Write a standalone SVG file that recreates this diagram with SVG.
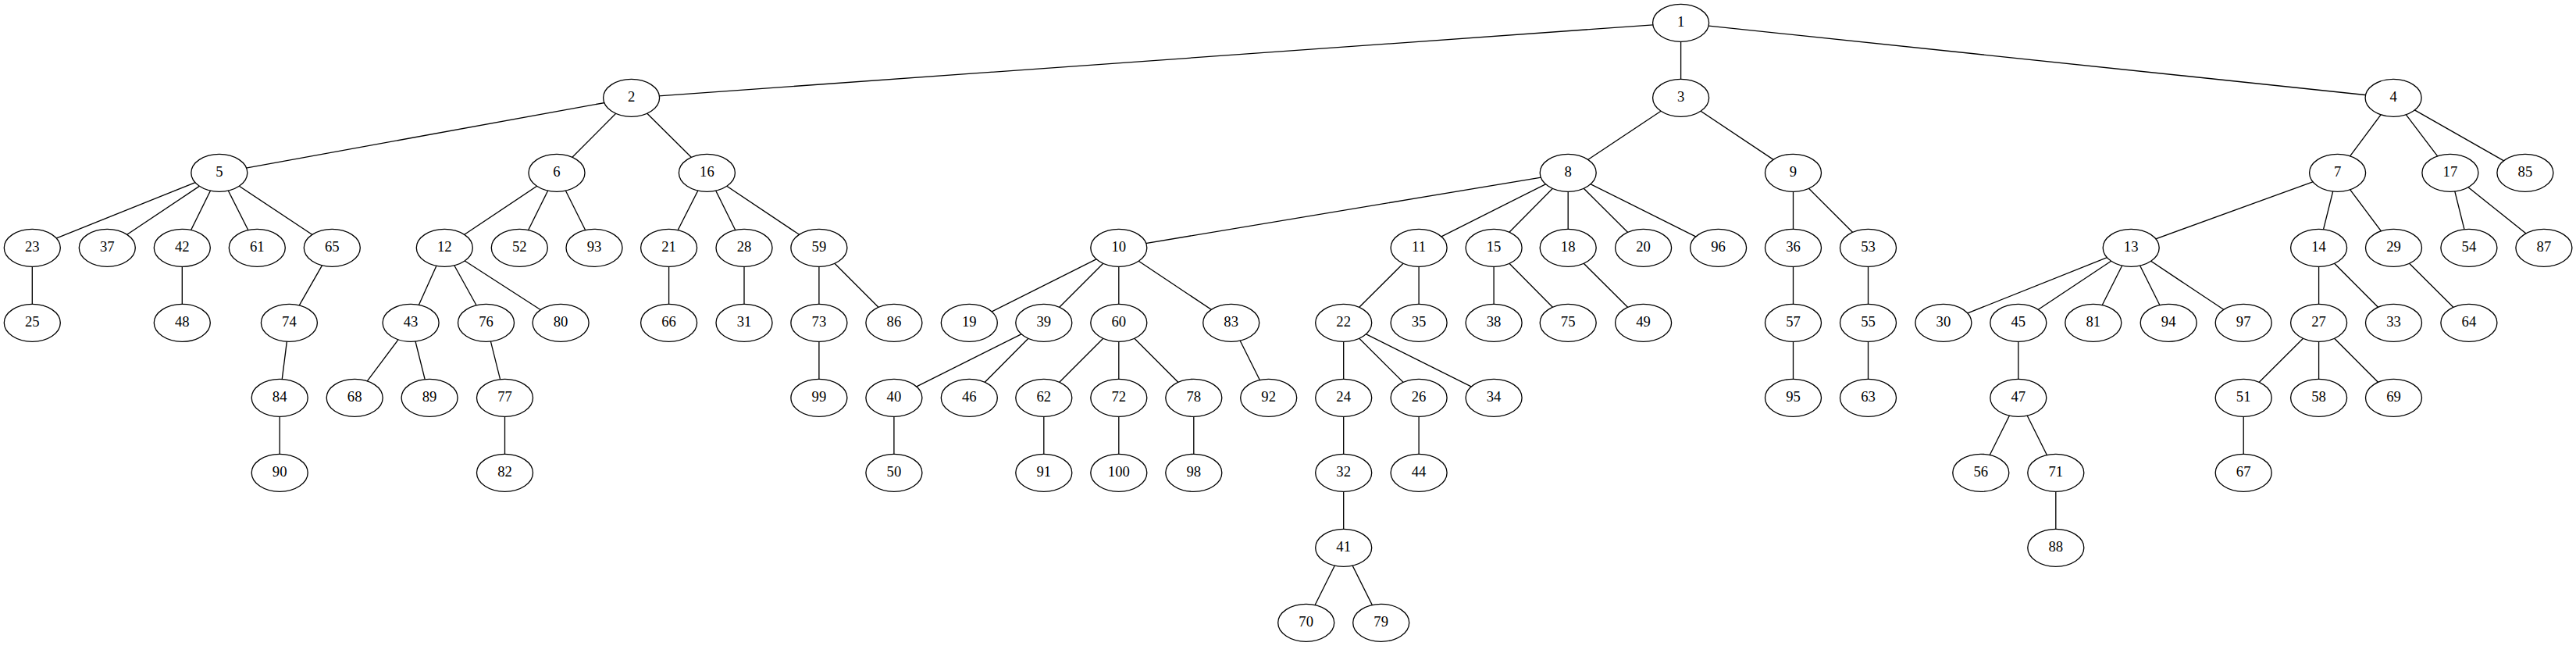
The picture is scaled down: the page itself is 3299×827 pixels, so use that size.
<svg xmlns="http://www.w3.org/2000/svg" width="3299" height="827" viewBox="0 0 3299 827">
<style>
.node ellipse{fill:#fff;stroke:#000;stroke-width:1.33}
.node text{font-family:"Liberation Serif","Times New Roman",serif;font-size:18.67px;text-anchor:middle;fill:#000}
#edges line{stroke:#000;stroke-width:1.33}
</style>
<rect width="3299" height="827" fill="#fff"/>
<g id="edges">
<line x1="2152.6" y1="29.3" x2="808.6" y2="125.3"/>
<line x1="2152.6" y1="29.3" x2="2152.6" y2="125.3"/>
<line x1="2152.6" y1="29.3" x2="3065.1" y2="125.3"/>
<line x1="808.6" y1="125.3" x2="280.8" y2="221.3"/>
<line x1="808.6" y1="125.3" x2="713.0" y2="221.3"/>
<line x1="808.6" y1="125.3" x2="905.4" y2="221.3"/>
<line x1="2152.6" y1="125.3" x2="2008.2" y2="221.3"/>
<line x1="2152.6" y1="125.3" x2="2296.5" y2="221.3"/>
<line x1="3065.1" y1="125.3" x2="2993.6" y2="221.3"/>
<line x1="3065.1" y1="125.3" x2="3137.9" y2="221.3"/>
<line x1="3065.1" y1="125.3" x2="3233.9" y2="221.3"/>
<line x1="280.8" y1="221.3" x2="41.3" y2="317.3"/>
<line x1="280.8" y1="221.3" x2="137.3" y2="317.3"/>
<line x1="280.8" y1="221.3" x2="233.3" y2="317.3"/>
<line x1="280.8" y1="221.3" x2="329.3" y2="317.3"/>
<line x1="280.8" y1="221.3" x2="425.3" y2="317.3"/>
<line x1="713.0" y1="221.3" x2="569.3" y2="317.3"/>
<line x1="713.0" y1="221.3" x2="665.3" y2="317.3"/>
<line x1="713.0" y1="221.3" x2="761.0" y2="317.3"/>
<line x1="905.4" y1="221.3" x2="856.6" y2="317.3"/>
<line x1="905.4" y1="221.3" x2="953.0" y2="317.3"/>
<line x1="905.4" y1="221.3" x2="1048.9" y2="317.3"/>
<line x1="2008.2" y1="221.3" x2="1432.8" y2="317.3"/>
<line x1="2008.2" y1="221.3" x2="1817.1" y2="317.3"/>
<line x1="2008.2" y1="221.3" x2="1913.1" y2="317.3"/>
<line x1="2008.2" y1="221.3" x2="2008.2" y2="317.3"/>
<line x1="2008.2" y1="221.3" x2="2104.6" y2="317.3"/>
<line x1="2008.2" y1="221.3" x2="2200.6" y2="317.3"/>
<line x1="2296.5" y1="221.3" x2="2296.5" y2="317.3"/>
<line x1="2296.5" y1="221.3" x2="2392.5" y2="317.3"/>
<line x1="2993.6" y1="221.3" x2="2729.2" y2="317.3"/>
<line x1="2993.6" y1="221.3" x2="2969.6" y2="317.3"/>
<line x1="2993.6" y1="221.3" x2="3065.5" y2="317.3"/>
<line x1="3137.9" y1="221.3" x2="3161.9" y2="317.3"/>
<line x1="3137.9" y1="221.3" x2="3257.9" y2="317.3"/>
<line x1="41.3" y1="317.3" x2="41.3" y2="413.3"/>
<line x1="233.3" y1="317.3" x2="233.3" y2="413.3"/>
<line x1="425.3" y1="317.3" x2="370.4" y2="413.3"/>
<line x1="569.3" y1="317.3" x2="526.1" y2="413.3"/>
<line x1="569.3" y1="317.3" x2="622.5" y2="413.3"/>
<line x1="569.3" y1="317.3" x2="718.1" y2="413.3"/>
<line x1="856.6" y1="317.3" x2="856.6" y2="413.3"/>
<line x1="953.0" y1="317.3" x2="953.0" y2="413.3"/>
<line x1="1048.9" y1="317.3" x2="1048.9" y2="413.3"/>
<line x1="1048.9" y1="317.3" x2="1144.9" y2="413.3"/>
<line x1="1432.8" y1="317.3" x2="1241.3" y2="413.3"/>
<line x1="1432.8" y1="317.3" x2="1336.8" y2="413.3"/>
<line x1="1432.8" y1="317.3" x2="1432.8" y2="413.3"/>
<line x1="1432.8" y1="317.3" x2="1576.7" y2="413.3"/>
<line x1="1817.1" y1="317.3" x2="1720.7" y2="413.3"/>
<line x1="1817.1" y1="317.3" x2="1817.1" y2="413.3"/>
<line x1="1913.1" y1="317.3" x2="1913.1" y2="413.3"/>
<line x1="1913.1" y1="317.3" x2="2008.2" y2="413.3"/>
<line x1="2008.2" y1="317.3" x2="2104.6" y2="413.3"/>
<line x1="2296.5" y1="317.3" x2="2296.5" y2="413.3"/>
<line x1="2392.5" y1="317.3" x2="2392.5" y2="413.3"/>
<line x1="2729.2" y1="317.3" x2="2488.9" y2="413.3"/>
<line x1="2729.2" y1="317.3" x2="2584.8" y2="413.3"/>
<line x1="2729.2" y1="317.3" x2="2680.8" y2="413.3"/>
<line x1="2729.2" y1="317.3" x2="2777.2" y2="413.3"/>
<line x1="2729.2" y1="317.3" x2="2873.2" y2="413.3"/>
<line x1="2969.6" y1="317.3" x2="2969.6" y2="413.3"/>
<line x1="2969.6" y1="317.3" x2="3065.5" y2="413.3"/>
<line x1="3065.5" y1="317.3" x2="3161.9" y2="413.3"/>
<line x1="370.4" y1="413.3" x2="358.2" y2="509.3"/>
<line x1="526.1" y1="413.3" x2="454.2" y2="509.3"/>
<line x1="526.1" y1="413.3" x2="550.1" y2="509.3"/>
<line x1="622.5" y1="413.3" x2="646.5" y2="509.3"/>
<line x1="1048.9" y1="413.3" x2="1048.9" y2="509.3"/>
<line x1="1336.8" y1="413.3" x2="1144.9" y2="509.3"/>
<line x1="1336.8" y1="413.3" x2="1241.3" y2="509.3"/>
<line x1="1432.8" y1="413.3" x2="1336.8" y2="509.3"/>
<line x1="1432.8" y1="413.3" x2="1432.8" y2="509.3"/>
<line x1="1432.8" y1="413.3" x2="1528.8" y2="509.3"/>
<line x1="1576.7" y1="413.3" x2="1624.7" y2="509.3"/>
<line x1="1720.7" y1="413.3" x2="1720.7" y2="509.3"/>
<line x1="1720.7" y1="413.3" x2="1817.1" y2="509.3"/>
<line x1="1720.7" y1="413.3" x2="1913.1" y2="509.3"/>
<line x1="2296.5" y1="413.3" x2="2296.5" y2="509.3"/>
<line x1="2392.5" y1="413.3" x2="2392.5" y2="509.3"/>
<line x1="2584.8" y1="413.3" x2="2584.8" y2="509.3"/>
<line x1="2969.6" y1="413.3" x2="2873.2" y2="509.3"/>
<line x1="2969.6" y1="413.3" x2="2969.6" y2="509.3"/>
<line x1="2969.6" y1="413.3" x2="3065.5" y2="509.3"/>
<line x1="358.2" y1="509.3" x2="358.2" y2="605.3"/>
<line x1="646.5" y1="509.3" x2="646.5" y2="605.3"/>
<line x1="1144.9" y1="509.3" x2="1144.9" y2="605.3"/>
<line x1="1336.8" y1="509.3" x2="1336.8" y2="605.3"/>
<line x1="1432.8" y1="509.3" x2="1432.8" y2="605.3"/>
<line x1="1528.8" y1="509.3" x2="1528.8" y2="605.3"/>
<line x1="1720.7" y1="509.3" x2="1720.7" y2="605.3"/>
<line x1="1817.1" y1="509.3" x2="1817.1" y2="605.3"/>
<line x1="2584.8" y1="509.3" x2="2536.8" y2="605.3"/>
<line x1="2584.8" y1="509.3" x2="2632.8" y2="605.3"/>
<line x1="2873.2" y1="509.3" x2="2873.2" y2="605.3"/>
<line x1="1720.7" y1="605.3" x2="1720.7" y2="701.3"/>
<line x1="2632.8" y1="605.3" x2="2632.8" y2="701.3"/>
<line x1="1720.7" y1="701.3" x2="1672.7" y2="797.3"/>
<line x1="1720.7" y1="701.3" x2="1768.7" y2="797.3"/>
</g>
<g id="node1" class="node"><ellipse cx="2152.6" cy="29.3" rx="36" ry="24"/><text x="2152.6" y="34.3">1</text></g>
<g id="node2" class="node"><ellipse cx="808.6" cy="125.3" rx="36" ry="24"/><text x="808.6" y="130.3">2</text></g>
<g id="node3" class="node"><ellipse cx="2152.6" cy="125.3" rx="36" ry="24"/><text x="2152.6" y="130.3">3</text></g>
<g id="node4" class="node"><ellipse cx="3065.1" cy="125.3" rx="36" ry="24"/><text x="3065.1" y="130.3">4</text></g>
<g id="node5" class="node"><ellipse cx="280.8" cy="221.3" rx="36" ry="24"/><text x="280.8" y="226.3">5</text></g>
<g id="node6" class="node"><ellipse cx="713.0" cy="221.3" rx="36" ry="24"/><text x="713.0" y="226.3">6</text></g>
<g id="node16" class="node"><ellipse cx="905.4" cy="221.3" rx="36" ry="24"/><text x="905.4" y="226.3">16</text></g>
<g id="node8" class="node"><ellipse cx="2008.2" cy="221.3" rx="36" ry="24"/><text x="2008.2" y="226.3">8</text></g>
<g id="node9" class="node"><ellipse cx="2296.5" cy="221.3" rx="36" ry="24"/><text x="2296.5" y="226.3">9</text></g>
<g id="node7" class="node"><ellipse cx="2993.6" cy="221.3" rx="36" ry="24"/><text x="2993.6" y="226.3">7</text></g>
<g id="node17" class="node"><ellipse cx="3137.9" cy="221.3" rx="36" ry="24"/><text x="3137.9" y="226.3">17</text></g>
<g id="node85" class="node"><ellipse cx="3233.9" cy="221.3" rx="36" ry="24"/><text x="3233.9" y="226.3">85</text></g>
<g id="node23" class="node"><ellipse cx="41.3" cy="317.3" rx="36" ry="24"/><text x="41.3" y="322.3">23</text></g>
<g id="node37" class="node"><ellipse cx="137.3" cy="317.3" rx="36" ry="24"/><text x="137.3" y="322.3">37</text></g>
<g id="node42" class="node"><ellipse cx="233.3" cy="317.3" rx="36" ry="24"/><text x="233.3" y="322.3">42</text></g>
<g id="node61" class="node"><ellipse cx="329.3" cy="317.3" rx="36" ry="24"/><text x="329.3" y="322.3">61</text></g>
<g id="node65" class="node"><ellipse cx="425.3" cy="317.3" rx="36" ry="24"/><text x="425.3" y="322.3">65</text></g>
<g id="node12" class="node"><ellipse cx="569.3" cy="317.3" rx="36" ry="24"/><text x="569.3" y="322.3">12</text></g>
<g id="node52" class="node"><ellipse cx="665.3" cy="317.3" rx="36" ry="24"/><text x="665.3" y="322.3">52</text></g>
<g id="node93" class="node"><ellipse cx="761.0" cy="317.3" rx="36" ry="24"/><text x="761.0" y="322.3">93</text></g>
<g id="node21" class="node"><ellipse cx="856.6" cy="317.3" rx="36" ry="24"/><text x="856.6" y="322.3">21</text></g>
<g id="node28" class="node"><ellipse cx="953.0" cy="317.3" rx="36" ry="24"/><text x="953.0" y="322.3">28</text></g>
<g id="node59" class="node"><ellipse cx="1048.9" cy="317.3" rx="36" ry="24"/><text x="1048.9" y="322.3">59</text></g>
<g id="node10" class="node"><ellipse cx="1432.8" cy="317.3" rx="36" ry="24"/><text x="1432.8" y="322.3">10</text></g>
<g id="node11" class="node"><ellipse cx="1817.1" cy="317.3" rx="36" ry="24"/><text x="1817.1" y="322.3">11</text></g>
<g id="node15" class="node"><ellipse cx="1913.1" cy="317.3" rx="36" ry="24"/><text x="1913.1" y="322.3">15</text></g>
<g id="node18" class="node"><ellipse cx="2008.2" cy="317.3" rx="36" ry="24"/><text x="2008.2" y="322.3">18</text></g>
<g id="node20" class="node"><ellipse cx="2104.6" cy="317.3" rx="36" ry="24"/><text x="2104.6" y="322.3">20</text></g>
<g id="node96" class="node"><ellipse cx="2200.6" cy="317.3" rx="36" ry="24"/><text x="2200.6" y="322.3">96</text></g>
<g id="node36" class="node"><ellipse cx="2296.5" cy="317.3" rx="36" ry="24"/><text x="2296.5" y="322.3">36</text></g>
<g id="node53" class="node"><ellipse cx="2392.5" cy="317.3" rx="36" ry="24"/><text x="2392.5" y="322.3">53</text></g>
<g id="node13" class="node"><ellipse cx="2729.2" cy="317.3" rx="36" ry="24"/><text x="2729.2" y="322.3">13</text></g>
<g id="node14" class="node"><ellipse cx="2969.6" cy="317.3" rx="36" ry="24"/><text x="2969.6" y="322.3">14</text></g>
<g id="node29" class="node"><ellipse cx="3065.5" cy="317.3" rx="36" ry="24"/><text x="3065.5" y="322.3">29</text></g>
<g id="node54" class="node"><ellipse cx="3161.9" cy="317.3" rx="36" ry="24"/><text x="3161.9" y="322.3">54</text></g>
<g id="node87" class="node"><ellipse cx="3257.9" cy="317.3" rx="36" ry="24"/><text x="3257.9" y="322.3">87</text></g>
<g id="node25" class="node"><ellipse cx="41.3" cy="413.3" rx="36" ry="24"/><text x="41.3" y="418.3">25</text></g>
<g id="node48" class="node"><ellipse cx="233.3" cy="413.3" rx="36" ry="24"/><text x="233.3" y="418.3">48</text></g>
<g id="node74" class="node"><ellipse cx="370.4" cy="413.3" rx="36" ry="24"/><text x="370.4" y="418.3">74</text></g>
<g id="node43" class="node"><ellipse cx="526.1" cy="413.3" rx="36" ry="24"/><text x="526.1" y="418.3">43</text></g>
<g id="node76" class="node"><ellipse cx="622.5" cy="413.3" rx="36" ry="24"/><text x="622.5" y="418.3">76</text></g>
<g id="node80" class="node"><ellipse cx="718.1" cy="413.3" rx="36" ry="24"/><text x="718.1" y="418.3">80</text></g>
<g id="node66" class="node"><ellipse cx="856.6" cy="413.3" rx="36" ry="24"/><text x="856.6" y="418.3">66</text></g>
<g id="node31" class="node"><ellipse cx="953.0" cy="413.3" rx="36" ry="24"/><text x="953.0" y="418.3">31</text></g>
<g id="node73" class="node"><ellipse cx="1048.9" cy="413.3" rx="36" ry="24"/><text x="1048.9" y="418.3">73</text></g>
<g id="node86" class="node"><ellipse cx="1144.9" cy="413.3" rx="36" ry="24"/><text x="1144.9" y="418.3">86</text></g>
<g id="node19" class="node"><ellipse cx="1241.3" cy="413.3" rx="36" ry="24"/><text x="1241.3" y="418.3">19</text></g>
<g id="node39" class="node"><ellipse cx="1336.8" cy="413.3" rx="36" ry="24"/><text x="1336.8" y="418.3">39</text></g>
<g id="node60" class="node"><ellipse cx="1432.8" cy="413.3" rx="36" ry="24"/><text x="1432.8" y="418.3">60</text></g>
<g id="node83" class="node"><ellipse cx="1576.7" cy="413.3" rx="36" ry="24"/><text x="1576.7" y="418.3">83</text></g>
<g id="node22" class="node"><ellipse cx="1720.7" cy="413.3" rx="36" ry="24"/><text x="1720.7" y="418.3">22</text></g>
<g id="node35" class="node"><ellipse cx="1817.1" cy="413.3" rx="36" ry="24"/><text x="1817.1" y="418.3">35</text></g>
<g id="node38" class="node"><ellipse cx="1913.1" cy="413.3" rx="36" ry="24"/><text x="1913.1" y="418.3">38</text></g>
<g id="node75" class="node"><ellipse cx="2008.2" cy="413.3" rx="36" ry="24"/><text x="2008.2" y="418.3">75</text></g>
<g id="node49" class="node"><ellipse cx="2104.6" cy="413.3" rx="36" ry="24"/><text x="2104.6" y="418.3">49</text></g>
<g id="node57" class="node"><ellipse cx="2296.5" cy="413.3" rx="36" ry="24"/><text x="2296.5" y="418.3">57</text></g>
<g id="node55" class="node"><ellipse cx="2392.5" cy="413.3" rx="36" ry="24"/><text x="2392.5" y="418.3">55</text></g>
<g id="node30" class="node"><ellipse cx="2488.9" cy="413.3" rx="36" ry="24"/><text x="2488.9" y="418.3">30</text></g>
<g id="node45" class="node"><ellipse cx="2584.8" cy="413.3" rx="36" ry="24"/><text x="2584.8" y="418.3">45</text></g>
<g id="node81" class="node"><ellipse cx="2680.8" cy="413.3" rx="36" ry="24"/><text x="2680.8" y="418.3">81</text></g>
<g id="node94" class="node"><ellipse cx="2777.2" cy="413.3" rx="36" ry="24"/><text x="2777.2" y="418.3">94</text></g>
<g id="node97" class="node"><ellipse cx="2873.2" cy="413.3" rx="36" ry="24"/><text x="2873.2" y="418.3">97</text></g>
<g id="node27" class="node"><ellipse cx="2969.6" cy="413.3" rx="36" ry="24"/><text x="2969.6" y="418.3">27</text></g>
<g id="node33" class="node"><ellipse cx="3065.5" cy="413.3" rx="36" ry="24"/><text x="3065.5" y="418.3">33</text></g>
<g id="node64" class="node"><ellipse cx="3161.9" cy="413.3" rx="36" ry="24"/><text x="3161.9" y="418.3">64</text></g>
<g id="node84" class="node"><ellipse cx="358.2" cy="509.3" rx="36" ry="24"/><text x="358.2" y="514.3">84</text></g>
<g id="node68" class="node"><ellipse cx="454.2" cy="509.3" rx="36" ry="24"/><text x="454.2" y="514.3">68</text></g>
<g id="node89" class="node"><ellipse cx="550.1" cy="509.3" rx="36" ry="24"/><text x="550.1" y="514.3">89</text></g>
<g id="node77" class="node"><ellipse cx="646.5" cy="509.3" rx="36" ry="24"/><text x="646.5" y="514.3">77</text></g>
<g id="node99" class="node"><ellipse cx="1048.9" cy="509.3" rx="36" ry="24"/><text x="1048.9" y="514.3">99</text></g>
<g id="node40" class="node"><ellipse cx="1144.9" cy="509.3" rx="36" ry="24"/><text x="1144.9" y="514.3">40</text></g>
<g id="node46" class="node"><ellipse cx="1241.3" cy="509.3" rx="36" ry="24"/><text x="1241.3" y="514.3">46</text></g>
<g id="node62" class="node"><ellipse cx="1336.8" cy="509.3" rx="36" ry="24"/><text x="1336.8" y="514.3">62</text></g>
<g id="node72" class="node"><ellipse cx="1432.8" cy="509.3" rx="36" ry="24"/><text x="1432.8" y="514.3">72</text></g>
<g id="node78" class="node"><ellipse cx="1528.8" cy="509.3" rx="36" ry="24"/><text x="1528.8" y="514.3">78</text></g>
<g id="node92" class="node"><ellipse cx="1624.7" cy="509.3" rx="36" ry="24"/><text x="1624.7" y="514.3">92</text></g>
<g id="node24" class="node"><ellipse cx="1720.7" cy="509.3" rx="36" ry="24"/><text x="1720.7" y="514.3">24</text></g>
<g id="node26" class="node"><ellipse cx="1817.1" cy="509.3" rx="36" ry="24"/><text x="1817.1" y="514.3">26</text></g>
<g id="node34" class="node"><ellipse cx="1913.1" cy="509.3" rx="36" ry="24"/><text x="1913.1" y="514.3">34</text></g>
<g id="node95" class="node"><ellipse cx="2296.5" cy="509.3" rx="36" ry="24"/><text x="2296.5" y="514.3">95</text></g>
<g id="node63" class="node"><ellipse cx="2392.5" cy="509.3" rx="36" ry="24"/><text x="2392.5" y="514.3">63</text></g>
<g id="node47" class="node"><ellipse cx="2584.8" cy="509.3" rx="36" ry="24"/><text x="2584.8" y="514.3">47</text></g>
<g id="node51" class="node"><ellipse cx="2873.2" cy="509.3" rx="36" ry="24"/><text x="2873.2" y="514.3">51</text></g>
<g id="node58" class="node"><ellipse cx="2969.6" cy="509.3" rx="36" ry="24"/><text x="2969.6" y="514.3">58</text></g>
<g id="node69" class="node"><ellipse cx="3065.5" cy="509.3" rx="36" ry="24"/><text x="3065.5" y="514.3">69</text></g>
<g id="node90" class="node"><ellipse cx="358.2" cy="605.3" rx="36" ry="24"/><text x="358.2" y="610.3">90</text></g>
<g id="node82" class="node"><ellipse cx="646.5" cy="605.3" rx="36" ry="24"/><text x="646.5" y="610.3">82</text></g>
<g id="node50" class="node"><ellipse cx="1144.9" cy="605.3" rx="36" ry="24"/><text x="1144.9" y="610.3">50</text></g>
<g id="node91" class="node"><ellipse cx="1336.8" cy="605.3" rx="36" ry="24"/><text x="1336.8" y="610.3">91</text></g>
<g id="node100" class="node"><ellipse cx="1432.8" cy="605.3" rx="36" ry="24"/><text x="1432.8" y="610.3">100</text></g>
<g id="node98" class="node"><ellipse cx="1528.8" cy="605.3" rx="36" ry="24"/><text x="1528.8" y="610.3">98</text></g>
<g id="node32" class="node"><ellipse cx="1720.7" cy="605.3" rx="36" ry="24"/><text x="1720.7" y="610.3">32</text></g>
<g id="node44" class="node"><ellipse cx="1817.1" cy="605.3" rx="36" ry="24"/><text x="1817.1" y="610.3">44</text></g>
<g id="node56" class="node"><ellipse cx="2536.8" cy="605.3" rx="36" ry="24"/><text x="2536.8" y="610.3">56</text></g>
<g id="node71" class="node"><ellipse cx="2632.8" cy="605.3" rx="36" ry="24"/><text x="2632.8" y="610.3">71</text></g>
<g id="node67" class="node"><ellipse cx="2873.2" cy="605.3" rx="36" ry="24"/><text x="2873.2" y="610.3">67</text></g>
<g id="node41" class="node"><ellipse cx="1720.7" cy="701.3" rx="36" ry="24"/><text x="1720.7" y="706.3">41</text></g>
<g id="node88" class="node"><ellipse cx="2632.8" cy="701.3" rx="36" ry="24"/><text x="2632.8" y="706.3">88</text></g>
<g id="node70" class="node"><ellipse cx="1672.7" cy="797.3" rx="36" ry="24"/><text x="1672.7" y="802.3">70</text></g>
<g id="node79" class="node"><ellipse cx="1768.7" cy="797.3" rx="36" ry="24"/><text x="1768.7" y="802.3">79</text></g>
</svg>
